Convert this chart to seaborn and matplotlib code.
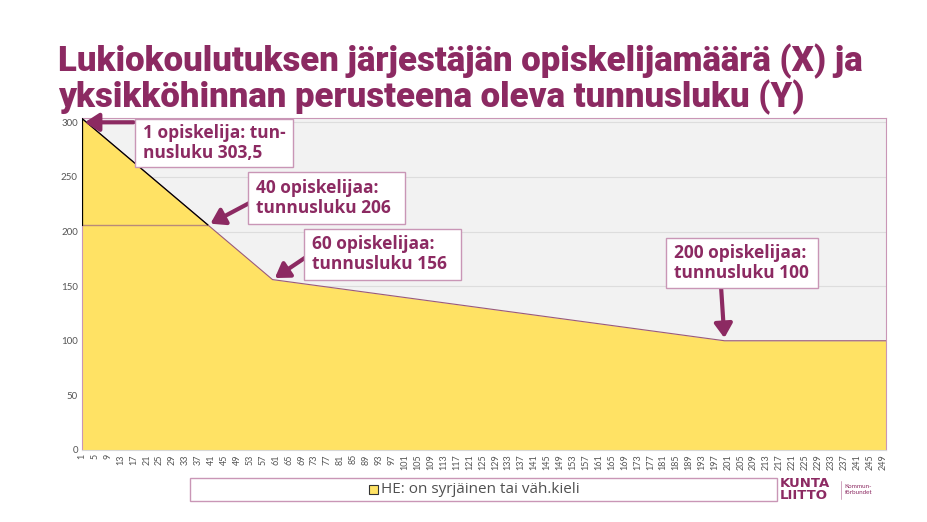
import matplotlib
matplotlib.use('Agg')
import matplotlib.pyplot as plt
import seaborn as sns
import pandas as pd
from matplotlib.patches import Rectangle

# data: breakpoints of the piecewise curve
opiskelijat = [1, 40, 60, 200, 250]
tunnusluku = [303.5, 206, 156, 100, 100]
# horizontal reference at 40 students
viiva_x = [1, 40]
viiva_y = [206, 206]

x_ticks = list(range(1, 250, 4))
y_ticks = [0, 50, 100, 150, 200, 250, 300]

otsikko = 'Lukiokoulutuksen järjestäjän opiskelijamäärä (X) ja\nyksikköhinnan perusteena oleva tunnusluku (Y)'
selite = 'HE: on syrjäinen tai väh.kieli'

huomiot = [
    ('1 opiskelija: tun-\nnusluku 303,5', 1, 300),
    ('40 opiskelijaa:\ntunnusluku 206', 40, 206),
    ('60 opiskelijaa:\ntunnusluku 156', 60, 156),
    ('200 opiskelijaa:\ntunnusluku 100', 200, 100),
]

sns.set_theme(style='white')
plt.rcParams['font.family'] = ['Lato', 'DejaVu Sans']

VIOLETTI = '#8c2a62'
REUNA = '#c996b6'
KELTAINEN = '#ffe264'

df = pd.DataFrame({'x': opiskelijat, 'y': tunnusluku})

fig = plt.figure(figsize=(9.28, 5.22), dpi=100)
ax = fig.add_axes([0.0884, 0.138, 0.8663, 0.636])
ax.set_facecolor('#f2f2f2')

ax.fill_between(df['x'], df['y'], 0, color=KELTAINEN, lw=0, zorder=2)
sns.lineplot(data=df, x='x', y='y', ax=ax, color='#9a5a7a', lw=0.8, zorder=3)
sns.lineplot(data=df.iloc[:2], x='x', y='y', ax=ax, color='black', lw=0.9, zorder=4)
ax.plot([1, 1], [viiva_y[0], tunnusluku[0]], color='black', lw=0.9, zorder=4)
ax.plot(viiva_x, viiva_y, color='#b88a7a', lw=1.0, zorder=3)

ax.set_xlim(1, 250)
ax.set_ylim(0, 304)
ax.set_xticks(x_ticks)
ax.set_xticklabels([str(v) for v in x_ticks], rotation=90, fontsize=6.5, color='#555555')
ax.set_yticks(y_ticks)
ax.set_yticklabels([str(v) for v in y_ticks], fontsize=7, color='#555555')
ax.tick_params(axis='both', length=0, pad=3)
ax.yaxis.grid(True, color='#dddddd', lw=0.8, zorder=1)
ax.set_axisbelow(True)
ax.set_xlabel('')
ax.set_ylabel('')
for s in ax.spines.values():
    s.set_color(REUNA)
    s.set_linewidth(0.8)
ax.spines['bottom'].set_color('#d8d8d8')

# annotation boxes in axes fraction
boksit = [
    (0.066, 0.853, 0.197, 0.145),
    (0.207, 0.682, 0.195, 0.155),
    (0.276, 0.513, 0.195, 0.152),
    (0.726, 0.487, 0.19, 0.152),
]
for (teksti, hx, hy), (bx, by, bw, bh) in zip(huomiot, boksit):
    ax.add_patch(Rectangle((bx, by), bw, bh, transform=ax.transAxes,
                           facecolor='white', edgecolor=REUNA, lw=1.0, zorder=6, clip_on=False))
    ax.text(bx + 0.010, by + bh / 2, teksti, transform=ax.transAxes, ha='left', va='center',
            fontsize=12.5, fontweight='bold', color=VIOLETTI, linespacing=1.15, zorder=7,
            family=['Open Sans', 'DejaVu Sans'])

nuolet = [
    (0.064, 0.987),
    (0.209, 0.745),
    (0.278, 0.58),
    (0.795, 0.487),
]
for (sx, sy), (teksti, hx, hy) in zip(nuolet, huomiot):
    ax.annotate('', xy=(hx, hy), xytext=(sx, sy), textcoords='axes fraction',
                arrowprops=dict(arrowstyle='-|>,head_length=0.7,head_width=0.45', color=VIOLETTI,
                                lw=3, shrinkA=0, shrinkB=2), zorder=5)

# title
fig.text(0.062, 0.848, otsikko, ha='left', va='center', fontsize=25, fontweight='black',
         color=VIOLETTI, linespacing=1.0,
         family=['Roboto', 'DejaVu Sans'])

# legend box
fig.patches.append(Rectangle((0.205, 0.04), 0.632, 0.045, transform=fig.transFigure,
                             facecolor='white', edgecolor=REUNA, lw=1.0, figure=fig))
fig.patches.append(Rectangle((0.398, 0.054), 0.009, 0.017, transform=fig.transFigure,
                             facecolor=KELTAINEN, edgecolor='#333333', lw=0.8, figure=fig))
fig.text(0.411, 0.0625, selite, ha='left', va='center', fontsize=11, color='#505050',
         family=['Open Sans', 'DejaVu Sans'])

# logo
fig.text(0.840, 0.073, 'KUNTA', ha='left', va='center', fontsize=9.5, color=VIOLETTI,
         family=['DejaVu Sans'], fontweight='bold')
fig.text(0.840, 0.051, 'LIITTO', ha='left', va='center', fontsize=9.5, color=VIOLETTI,
         family=['DejaVu Sans'], fontweight='bold')
fig.lines.append(plt.Line2D([0.906, 0.906], [0.045, 0.078], transform=fig.transFigure,
                            color=REUNA, lw=0.6))
fig.text(0.910, 0.062, 'Kommun-\nförbundet', ha='left', va='center', fontsize=4.5,
         color=VIOLETTI, linespacing=1.2)

fig.savefig('out.png', dpi=100)
